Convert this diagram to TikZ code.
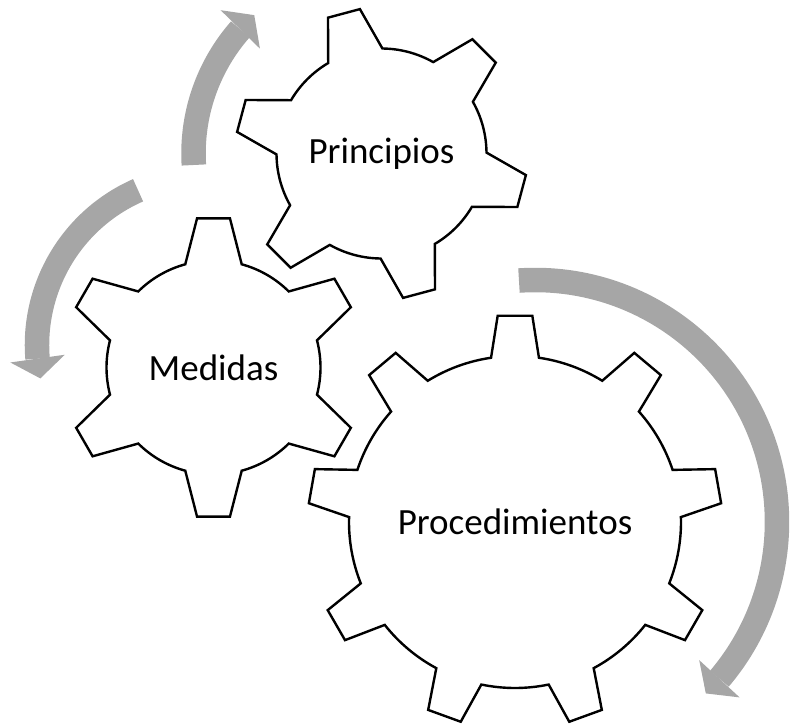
\documentclass[tikz,border=0pt]{standalone}
\usepackage{fontspec}
\setmainfont{Carlito}
\usepackage{tikz}
\usetikzlibrary{arrows.meta,bending}

\definecolor{cyclegray}{HTML}{A6A6A6}

% teeth, root radius, outer radius, first tooth angle, base half-angle, tip half-angle
\newcommand{\gearoutline}[6]{%
  ({#4-#5}:#2)
  \foreach \k [evaluate=\k as \a using #4+(\k-1)*360/#1] in {1,...,#1}{
    -- ({\a-#6}:#3) -- ({\a+#6}:#3) -- ({\a+#5}:#2)
    arc[start angle={\a+#5}, end angle={\a+360/#1-#5}, radius=#2]
  } -- cycle}

\begin{document}
\begin{tikzpicture}[
    x=1pt, y=1pt,
    gear/.style={draw=black, line width=2.4pt, fill=white, line join=miter},
    label/.style={font=\fontsize{37}{40}\selectfont, text=black},
    cycle/.style={draw=cyclegray, line width=24.5pt,
      -{Triangle[width=55pt, length=20pt, line width=0pt]}}
]
\useasboundingbox (0,0) rectangle (790,-726);

% Turning arrows
\draw[cycle] ([shift={(381.5,-153.5)}]183.5:188) arc[start angle=183.5, end angle=132.6, radius=188];
\draw[cycle] ([shift={(206,-345)}]113.7:169) arc[start angle=113.7, end angle=191.4, radius=169];
\draw[cycle] ([shift={(535,-522)}]93.8:242) arc[start angle=93.8, end angle=-45.1, radius=242];

% Gears
\begin{scope}[shift={(381.5,-153.5)}]
  \draw[gear] \gearoutline{6}{105}{146}{105}{15.5}{6.5};
  \node[label] (principios) at (0,0) {Principios};
\end{scope}
\begin{scope}[shift={(213.5,-367.5)}]
  \draw[gear] \gearoutline{6}{107}{150}{90}{15.3}{6.3};
  \node[label] (medidas) at (0,0) {Medidas};
\end{scope}
\begin{scope}[shift={(515,-522)}]
  \draw[gear] \gearoutline{9}{166}{207}{90}{8.3}{4.8};
  \node[label] (procedimientos) at (0,0) {Procedimientos};
\end{scope}

\end{tikzpicture}
\end{document}
